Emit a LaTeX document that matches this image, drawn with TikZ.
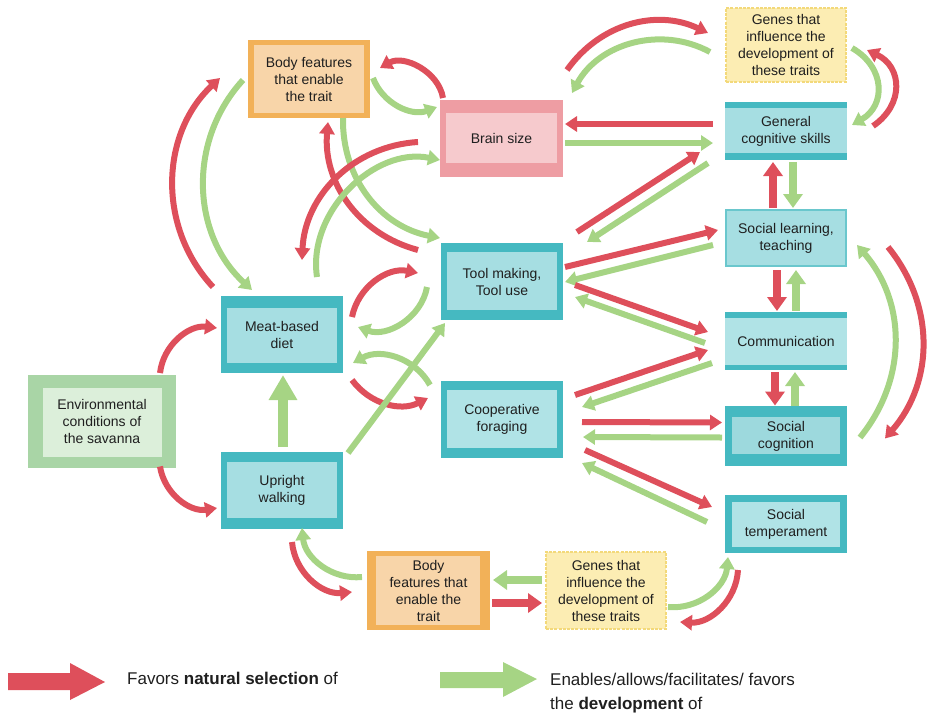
\documentclass[tikz,border=0pt]{standalone}
\usepackage{fontspec}
\setmainfont{Liberation Sans}
\usetikzlibrary{arrows.meta,calc}

% palette
\definecolor{ink}{HTML}{1F1F1F}
\definecolor{arrR}{HTML}{DE4F5B}
\definecolor{arrG}{HTML}{A6D484}
\definecolor{tealD}{HTML}{45B9C1}
\definecolor{tealL}{HTML}{A6DEE2}
\definecolor{tealP}{HTML}{B0E3E6}
\definecolor{tealS}{HTML}{9DD9DD}
\definecolor{orangeD}{HTML}{F2B158}
\definecolor{orangeL}{HTML}{F8D5A9}
\definecolor{pinkD}{HTML}{EE9DA3}
\definecolor{pinkL}{HTML}{F6CACD}
\definecolor{yellowD}{HTML}{F3D97A}
\definecolor{yellowL}{HTML}{FCEDB3}
\definecolor{greenD}{HTML}{A9D5A6}
\definecolor{greenL}{HTML}{DCEFDA}

\begin{document}
\begin{tikzpicture}[x=1pt,y=-1pt,
  box/.style={rectangle, inner sep=0pt, align=center, text=ink,
    font=\fontsize{14}{17}\selectfont},
  % outer colour, inner colour, left, top, right, bottom insets
  framed/.style n args={6}{fill=#1, path picture={
    \fill[#2] ([xshift=#3pt,yshift=-#4pt]path picture bounding box.north west)
      rectangle ([xshift=-#5pt,yshift=#6pt]path picture bounding box.south east);}},
  thin frame/.style 2 args={fill=#2, draw=#1, line width=1.6pt},
  ra/.style={draw=arrR, line width=6pt, -{Triangle[width=15pt,length=12pt]}},
  ga/.style={draw=arrG, line width=6pt, -{Triangle[width=15pt,length=12pt]}},
  ra2/.style={draw=arrR, line width=8pt, -{Triangle[width=19pt,length=14pt]}},
  ga2/.style={draw=arrG, line width=8pt, -{Triangle[width=19pt,length=14pt]}},
  gabig/.style={draw=arrG, line width=10pt, -{Triangle[width=27pt,length=25pt]}},
  legend/.style={inner sep=0pt, text=ink, font=\fontsize{17}{24}\selectfont}
]
\useasboundingbox (0,0) rectangle (930,713);

% ---------- boxes ----------
\node[box, framed={orangeD}{orangeL}{6}{5}{6}{5}, minimum width=122pt, minimum height=78pt]
  (bf1) at (309,79) {Body features\\that enable\\the trait};
\node[box, framed={pinkD}{pinkL}{6}{13}{6}{14}, minimum width=123pt, minimum height=77pt]
  (bs) at (501.5,138.5) {Brain size};
\node[box, thin frame={yellowD}{yellowL}, dash pattern=on 3pt off 1.2pt, minimum width=120pt, minimum height=74pt]
  (g1) at (786,45) {Genes that\\influence the\\development of\\these traits};
\node[box, framed={tealD}{tealL}{0}{6}{0}{7}, minimum width=122pt, minimum height=58pt]
  (gc) at (786,131) {General\\cognitive skills};
\node[box, thin frame={tealD!80!white}{tealL}, minimum width=120pt, minimum height=56pt]
  (sl) at (786,238) {Social learning,\\teaching};
\node[box, framed={tealD}{tealP}{0}{6}{0}{5}, minimum width=122pt, minimum height=58pt]
  (com) at (786,341) {Communication};
\node[box, framed={tealD}{tealS}{7}{11}{7}{12}, minimum width=122pt, minimum height=60pt]
  (sc) at (786,436) {Social\\cognition};
\node[box, framed={tealD}{tealP}{7}{7}{7}{6}, minimum width=122pt, minimum height=58pt]
  (st) at (786,524) {Social\\temperament};
\node[box, framed={tealD}{tealL}{6}{9}{6}{10}, minimum width=122pt, minimum height=77pt]
  (tm) at (502,281.5) {Tool making,\\Tool use};
\node[box, framed={tealD}{tealP}{6}{9}{6}{10}, minimum width=122pt, minimum height=77pt]
  (cf) at (502,419.5) {Cooperative\\foraging};
\node[box, framed={tealD}{tealL}{6}{12}{6}{10}, minimum width=122pt, minimum height=77pt]
  (md) at (282,334.5) {Meat-based\\diet};
\node[box, framed={tealD}{tealL}{6}{10}{6}{11}, minimum width=122pt, minimum height=77pt]
  (uw) at (282,490) {Upright\\walking};
\node[box, framed={greenD}{greenL}{15}{13}{14}{11}, minimum width=148pt, minimum height=93pt]
  (env) at (102,421.5) {Environmental\\conditions of\\the savanna};
\node[box, framed={orangeD}{orangeL}{9}{5}{10}{5}, minimum width=123pt, minimum height=79pt]
  (bf2) at (428.5,590.5) {Body\\features that\\enable the\\trait};
\node[box, thin frame={yellowD}{yellowL}, dash pattern=on 3pt off 1.2pt, minimum width=120pt, minimum height=77pt]
  (g2) at (606,590.5) {Genes that\\influence the\\development of\\these traits};

% ---------- left cluster ----------
\draw[ra] ($(md)+(-69,-47.5)$) to[bend left=45] ($(bf1)+(-89,-1)$);
\draw[ga] ($(bf1)+(-66,1)$) to[bend right=45] ($(md)+(-30,-44.5)$);
\draw[ra] ($(bs)+(-58.5,-40.5)$) to[bend right=55] ($(bf1)+(71,-11)$);
\draw[ga] ($(bf1)+(64,-1)$) to[bend right=45] ($(bs)+(-64.5,-31.5)$);
\draw[ra] ($(tm)+(-84,-31.5)$) to[bend left=40] ($(bf1)+(19,43)$);
\draw[ga] ($(bf1)+(34,39)$) to[bend right=40] ($(tm)+(-62,-43.5)$);
\draw[ra] ($(bs)+(-83.5,3.5)$) to[bend right=42] ($(md)+(20,-74.5)$);
\draw[ga] ($(md)+(35,-57.5)$) to[bend left=55] ($(bs)+(-61.5,21.5)$);
\draw[ra] ($(md)+(70,-17.5)$) to[bend left=45] ($(tm)+(-84,-8.5)$);
\draw[ga] ($(tm)+(-75,5.5)$) to[bend left=50] ($(md)+(76,-7.5)$);
\draw[ga] ($(cf)+(-72,-34.5)$) to[bend right=45] ($(md)+(71,28.5)$);
\draw[ra] ($(md)+(70,45.5)$) to[bend right=40] ($(cf)+(-74,-21.5)$);
\draw[ga] ($(uw)+(66,-37)$) -- ($(tm)+(-57,41.5)$);
\draw[gabig] ($(uw)+(1,-43)$) -- ($(md)+(1,40.5)$);
\draw[ra] ($(env)+(58,-48.5)$) to[bend left=45] ($(md)+(-65,-6.5)$);
\draw[ra] ($(env)+(58,45)$) to[bend right=45] ($(uw)+(-65,18)$);
\draw[ra] ($(uw)+(10,52)$) to[bend right=45] ($(bf2)+(-76.5,1.5)$);
\draw[ga] ($(bf2)+(-66.5,-13.5)$) to[bend left=45] ($(uw)+(20,38)$);

% ---------- bottom row ----------
\draw[ga2] ($(g2)+(-64,-10.5)$) -- ($(bf2)+(64.5,-10.5)$);
\draw[ra2] ($(bf2)+(63.5,12.5)$) -- ($(g2)+(-64,12.5)$);
\draw[ga] ($(g2)+(62,16.5)$) to[bend right=45] ($(st)+(-58,33)$);
\draw[ra] ($(st)+(-48,46)$) to[bend left=45] ($(g2)+(74,31.5)$);

% ---------- top right ----------
\draw[ra] ($(bs)+(65.5,-68.5)$) to[bend left=40] ($(g1)+(-78,-12)$);
\draw[ga] ($(g1)+(-76,7)$) to[bend right=45] ($(bs)+(70.5,-45.5)$);
\draw[ga] ($(g1)+(66,3)$) to[bend left=60, looseness=1.3] ($(gc)+(66,-6)$);
\draw[ra] ($(gc)+(87,-5)$) to[bend right=60, looseness=1.3] ($(g1)+(81,5)$);

% ---------- fan between the middle and right columns ----------
\draw[ra] ($(gc)+(-73,-7)$) -- ($(bs)+(63.5,-14.5)$);
\draw[ga] ($(bs)+(63.5,4.5)$) -- ($(gc)+(-73,12)$);
\draw[ra] ($(tm)+(75,-49.5)$) -- ($(gc)+(-86,21)$);
\draw[ga] ($(gc)+(-78,32)$) -- ($(tm)+(85,-39.5)$);
\draw[ra] ($(tm)+(63,-14.5)$) -- ($(sl)+(-68,-8)$);
\draw[ga] ($(sl)+(-73,7)$) -- ($(tm)+(63,0.5)$);
\draw[ra] ($(tm)+(73,3.5)$) -- ($(com)+(-78,-9)$);
\draw[ga] ($(com)+(-81,2)$) -- ($(tm)+(73,15.5)$);
\draw[ra] ($(cf)+(73,-24.5)$) -- ($(com)+(-78,9)$);
\draw[ga] ($(com)+(-74,22)$) -- ($(cf)+(80,-12.5)$);
\draw[ra] ($(cf)+(80,2.5)$) -- ($(sc)+(-64,-13.5)$);
\draw[ga] ($(sc)+(-64,1.5)$) -- ($(cf)+(81,17.5)$);
\draw[ra] ($(cf)+(83,30.5)$) -- ($(st)+(-74,-17)$);
\draw[ga] ($(st)+(-79,-2)$) -- ($(cf)+(80,43.5)$);

% ---------- right column ----------
\draw[ra2] ($(sl)+(-13,-30)$) -- ($(gc)+(-13,31)$);
\draw[ga2] ($(gc)+(7,31)$) -- ($(sl)+(7,-30)$);
\draw[ra2] ($(sl)+(-9,32)$) -- ($(com)+(-9,-30)$);
\draw[ga2] ($(com)+(10,-30)$) -- ($(sl)+(10,32)$);
\draw[ra2] ($(com)+(-11,31)$) -- ($(sc)+(-11,-30.5)$);
\draw[ga2] ($(sc)+(9,-30.5)$) -- ($(com)+(9,31)$);
\draw[ga] ($(sc)+(74,1.5)$) to[bend right=40] ($(sl)+(71,7)$);
\draw[ra] ($(sl)+(102,9)$) to[bend left=40] ($(sc)+(99,2.5)$);

% ---------- legend ----------
\fill[arrR] (8,673) -- (70,673) -- (70,663) -- (105,682) -- (70,700) -- (70,690) -- (8,690) -- cycle;
\fill[arrG] (440,672) -- (503,672) -- (503,662) -- (537,679) -- (503,697) -- (503,688) -- (440,688) -- cycle;
\node[legend, anchor=base west] (legr) at (127,684) {Favors \textbf{natural selection} of};
\node[legend, anchor=base west] (legg1) at (550,685) {Enables/allows/facilitates/ favors};
\node[legend, anchor=base west] (legg2) at (550,709) {the \textbf{development} of};
\end{tikzpicture}
\end{document}
